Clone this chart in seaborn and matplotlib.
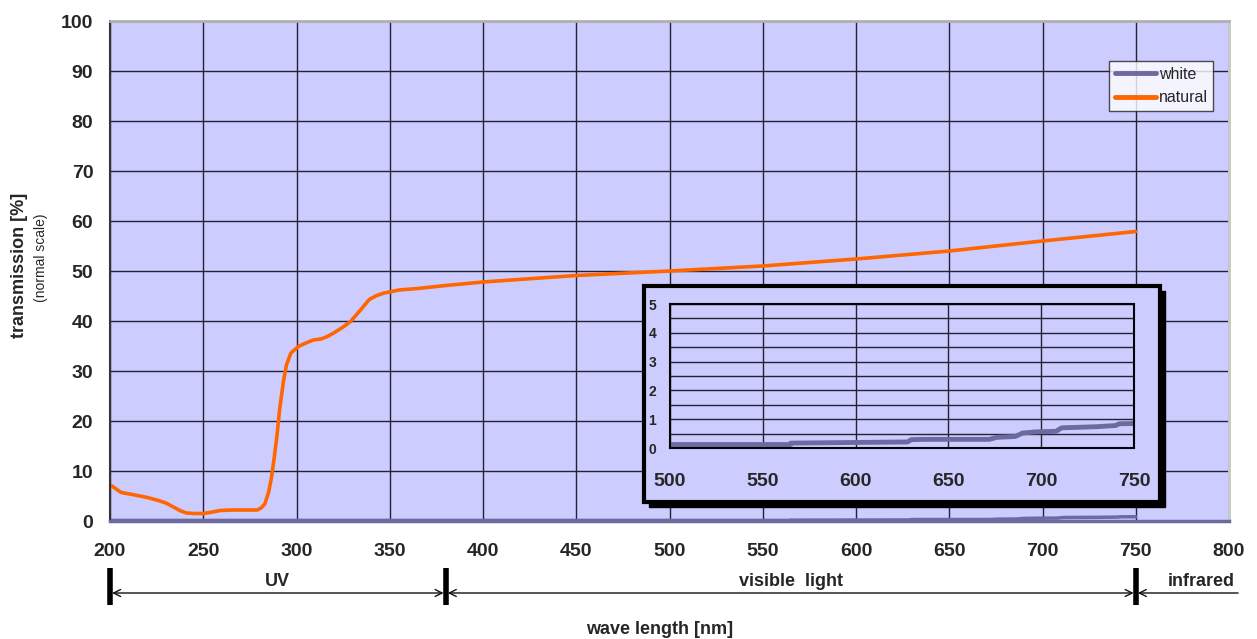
import numpy as np
import pandas as pd
import matplotlib
matplotlib.use('Agg')
import matplotlib.pyplot as plt
import seaborn as sns
from matplotlib.patches import Rectangle
from matplotlib.ticker import MultipleLocator

natural_nm = [200, 201, 206, 212, 220, 226, 230, 234, 238, 241, 245, 250, 255, 259, 266, 272, 279,
              281, 283, 285, 286.5, 288, 289.5, 291, 293, 294.6, 297, 301, 305, 309, 313, 316, 320,
              325, 329, 332, 335, 339, 343, 347, 355, 365, 380, 400, 450, 500, 550, 600, 650, 700, 750]
natural_val = [7.2, 7.0, 5.7, 5.3, 4.7, 4.1, 3.6, 2.8, 2.0, 1.6, 1.5, 1.5, 1.8, 2.1, 2.2, 2.2, 2.2,
               2.6, 3.4, 5.7, 8.5, 12.5, 17.0, 22.5, 27.9, 31.2, 33.6, 34.9, 35.6, 36.2, 36.4, 36.8, 37.6,
               38.8, 39.9, 41.2, 42.5, 44.3, 45.1, 45.6, 46.2, 46.5, 47.1, 47.8, 49.1, 50.0, 51.0, 52.4, 54.0, 56.0, 57.9]

white_nm = [200, 565, 565, 628, 630, 637, 672, 676, 686, 690, 697, 708, 711, 730, 740, 742, 750]
white_val = [0.12, 0.12, 0.17, 0.21, 0.29, 0.30, 0.30, 0.37, 0.40, 0.52, 0.56, 0.58, 0.70, 0.74, 0.78, 0.84, 0.85]

regions = [('UV', 200, 380), ('visible  light', 380, 750), ('infrared', 750, 806)]

bg = '#CCCCFF'
c_white = '#6B6BA0'
c_nat = '#FF6600'

sns.set_style('white')
plt.rcParams['font.family'] = ['Liberation Sans', 'DejaVu Sans']

df_nat = pd.DataFrame({'nm': natural_nm, 'val': natural_val})
df_white = pd.DataFrame({'nm': white_nm, 'val': white_val})

fig = plt.figure(figsize=(12.57, 6.39), dpi=100)
ax = fig.add_axes([110/1257, 1-521/639, 1119/1257, 500/639])
ax.set_facecolor(bg)

sns.lineplot(data=df_white, x='nm', y='val', ax=ax, color=c_white, lw=2.5, label='white',
             sort=False, estimator=None)
sns.lineplot(data=df_nat, x='nm', y='val', ax=ax, color=c_nat, lw=2.6, label='natural',
             sort=False, estimator=None)

ax.set_xlim(200, 800)
ax.set_ylim(0, 100)
ax.xaxis.set_major_locator(MultipleLocator(50))
ax.xaxis.set_minor_locator(MultipleLocator(10))
ax.yaxis.set_major_locator(MultipleLocator(10))
ax.grid(True, which='major', color='#222233', lw=1)
ax.tick_params(axis='x', which='major', direction='out', length=7, width=1.2, color='#333',
               labelsize=14, pad=9)
ax.tick_params(axis='x', which='minor', direction='out', length=5, width=1, color='#333')
ax.tick_params(axis='y', which='major', length=0, labelsize=14, pad=12)
for lab in ax.get_xticklabels() + ax.get_yticklabels():
    lab.set_fontweight('bold')
ax.set_xlabel('')
ax.set_ylabel('')
ax.spines['left'].set_color('#333')
ax.spines['left'].set_linewidth(1.5)
ax.spines['bottom'].set_color(c_white)
ax.spines['bottom'].set_linewidth(2.5)
ax.spines['top'].set_color('#B0B0B0')
ax.spines['top'].set_linewidth(2)
ax.spines['right'].set_color('#C8C8C8')
ax.spines['right'].set_linewidth(2)

leg = ax.legend(loc='upper left', bbox_to_anchor=(0.893, 0.92), frameon=True, fancybox=False,
                fontsize=11.5, handlelength=2.6, handletextpad=0.15, borderpad=0.35,
                labelspacing=0.55, borderaxespad=0)
leg.get_frame().set_edgecolor('#222')
leg.get_frame().set_linewidth(1)
for h in leg.get_lines():
    h.set_linewidth(3.5)

# region arrows under the axis
tr = ax.get_xaxis_transform()
y_arr = -0.144
for name, x0, x1 in regions:
    style = '<->' if name != 'infrared' else '->'
    ax.annotate('', xy=(x0, y_arr), xytext=(x1, y_arr), xycoords=tr, textcoords=tr,
                arrowprops=dict(arrowstyle=style + ',head_length=0.5,head_width=0.25',
                                color='#111', lw=1, shrinkA=1.5, shrinkB=1.5),
                annotation_clip=False)
    ax.text((x0 + x1) / 2 if name != 'infrared' else 785, y_arr + 0.006, name, transform=tr,
            ha='center', va='bottom', fontsize=13, fontweight='bold', clip_on=False)
for xb in [200, 380, 750]:
    ax.plot([xb, xb], [-0.094, -0.168], transform=tr, color='black', lw=4, clip_on=False,
            solid_capstyle='butt')

fig.text(660/1257, 1 - 629/639, 'wave length [nm]', ha='center', va='center',
         fontsize=13, fontweight='bold')
fig.text(20/1257, 1 - 265/639, 'transmission [%]', rotation=90, ha='center', va='center',
         fontsize=13, fontweight='bold')
fig.text(41/1257, 1 - 258/639, '(normal scale)', rotation=90, ha='center', va='center',
         fontsize=10)

# inset frame with shadow
fx0, fx1, fy0, fy1 = 644, 1160, 286, 502
fig.patches.append(Rectangle(((fx0 + 5) / 1257, 1 - (fy1 + 5) / 639), (fx1 - fx0) / 1257,
                             (fy1 - fy0) / 639, transform=fig.transFigure, facecolor='black',
                             edgecolor='black', zorder=5))
fig.patches.append(Rectangle((fx0 / 1257, 1 - fy1 / 639), (fx1 - fx0) / 1257, (fy1 - fy0) / 639,
                             transform=fig.transFigure, facecolor=bg, edgecolor='black', lw=3,
                             zorder=6))

ins = fig.add_axes([670/1257, 1 - 448/639, 464/1257, 144/639])
ins.set_zorder(7)
ins.set_facecolor(bg)
sns.lineplot(data=df_white, x='nm', y='val', ax=ins, color=c_white, lw=3.5, sort=False,
             estimator=None, legend=False)
ins.set_xlim(500, 750)
ins.set_ylim(0, 5)
ins.xaxis.set_major_locator(MultipleLocator(50))
ins.xaxis.set_minor_locator(MultipleLocator(10))
ins.yaxis.set_major_locator(MultipleLocator(1))
ins.yaxis.set_minor_locator(MultipleLocator(0.5))
ins.grid(True, which='major', axis='both', color='#222233', lw=1)
ins.grid(True, which='minor', axis='y', color='#222233', lw=1)
ins.tick_params(axis='x', which='major', direction='out', length=5, width=1, labelsize=14, pad=13)
ins.tick_params(axis='x', which='minor', direction='out', length=3, width=1)
ins.tick_params(axis='y', which='both', length=0, labelsize=10, pad=10)
for lab in ins.get_xticklabels() + ins.get_yticklabels():
    lab.set_fontweight('bold')
ins.set_xlabel('')
ins.set_ylabel('')
for s in ins.spines.values():
    s.set_color('black')
    s.set_linewidth(1.5)

fig.savefig('out.png', dpi=100)
